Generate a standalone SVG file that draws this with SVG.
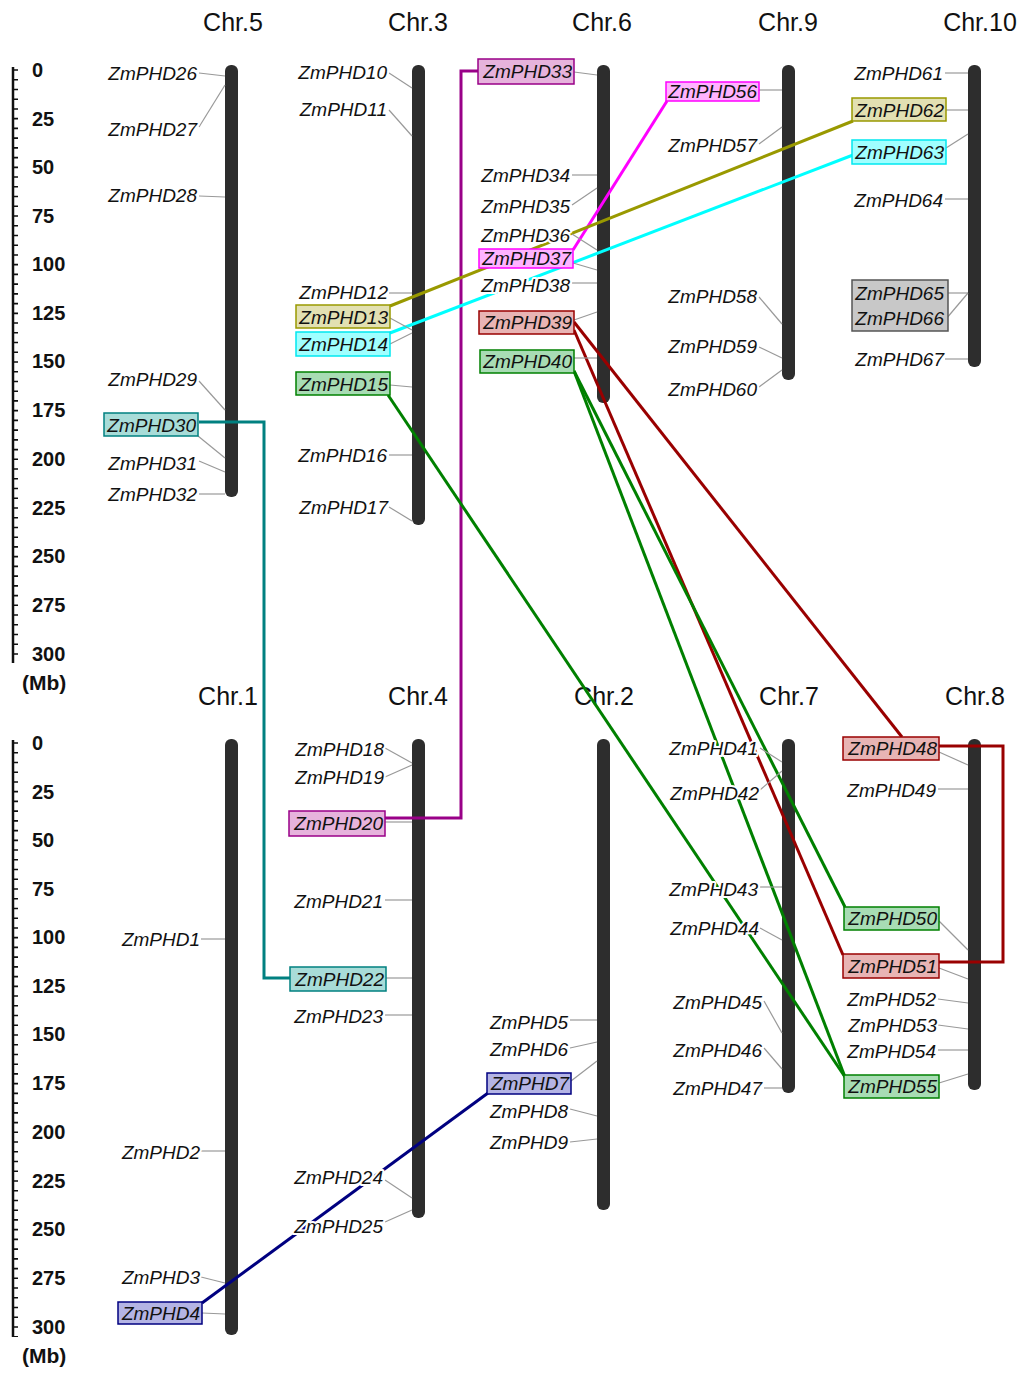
<svg xmlns="http://www.w3.org/2000/svg" width="1024" height="1377" viewBox="0 0 1024 1377">
<style>
.lab{font-family:"Liberation Sans",Arial,sans-serif;font-style:italic;font-size:19px;fill:#111;text-anchor:end;stroke:#fff;stroke-width:4px;paint-order:stroke;stroke-linejoin:round}
.bl{stroke:none}
.ttl{font-family:"Liberation Sans",Arial,sans-serif;font-size:25px;fill:#111;text-anchor:middle}
.num{font-family:"Liberation Sans",Arial,sans-serif;font-weight:bold;font-size:20px;fill:#111}
.mb{font-family:"Liberation Sans",Arial,sans-serif;font-weight:bold;font-size:21px;fill:#111}
.ld{stroke:#999;stroke-width:1.2;fill:none}
.chr{fill:#2d2d2d}
.cn{fill:none;stroke-width:3}
.pu{fill:#e6b3dc;stroke:#990088;stroke-width:1.5}
.mg{fill:#ffb3ff;stroke:#ff00ff;stroke-width:1.5}
.rd{fill:#e8b4b4;stroke:#990000;stroke-width:1.5}
.gr{fill:#a8dcb4;stroke:#008000;stroke-width:1.5}
.tl{fill:#a8dcd8;stroke:#008080;stroke-width:1.5}
.ol{fill:#e2e0b2;stroke:#999900;stroke-width:1.5}
.cy{fill:#a0ffff;stroke:#00e8f0;stroke-width:1.5}
.nv{fill:#b4b4e4;stroke:#000080;stroke-width:1.5}
.gy{fill:#c8c8c8;stroke:#555;stroke-width:1.5}
</style>
<rect width="1024" height="1377" fill="#fff"/>

<g id="ruler-top">
<line x1="13" y1="67" x2="13" y2="663" stroke="#111" stroke-width="2.5"/>
<line x1="15.5" y1="69.2" x2="15.5" y2="663" stroke="#111" stroke-width="5" stroke-dasharray="1.6 8.133"/>
<text class="num" x="32" y="77">0</text>
<text class="num" x="32" y="126">25</text>
<text class="num" x="32" y="174">50</text>
<text class="num" x="32" y="223">75</text>
<text class="num" x="32" y="271">100</text>
<text class="num" x="32" y="320">125</text>
<text class="num" x="32" y="368">150</text>
<text class="num" x="32" y="417">175</text>
<text class="num" x="32" y="466">200</text>
<text class="num" x="32" y="515">225</text>
<text class="num" x="32" y="563">250</text>
<text class="num" x="32" y="612">275</text>
<text class="num" x="32" y="661">300</text>
<text class="mb" x="22" y="690">(Mb)</text>
</g>
<g id="ruler-bottom">
<line x1="13" y1="740" x2="13" y2="1337" stroke="#111" stroke-width="2.5"/>
<line x1="15.5" y1="742.2" x2="15.5" y2="1337" stroke="#111" stroke-width="5" stroke-dasharray="1.6 8.133"/>
<text class="num" x="32" y="750">0</text>
<text class="num" x="32" y="799">25</text>
<text class="num" x="32" y="847">50</text>
<text class="num" x="32" y="896">75</text>
<text class="num" x="32" y="944">100</text>
<text class="num" x="32" y="993">125</text>
<text class="num" x="32" y="1041">150</text>
<text class="num" x="32" y="1090">175</text>
<text class="num" x="32" y="1139">200</text>
<text class="num" x="32" y="1188">225</text>
<text class="num" x="32" y="1236">250</text>
<text class="num" x="32" y="1285">275</text>
<text class="num" x="32" y="1334">300</text>
<text class="mb" x="22" y="1363">(Mb)</text>
</g>

<g id="chromosomes">
<g id="chr5"><text class="ttl" x="233" y="31">Chr.5</text><rect class="chr" x="225" y="65" width="13" height="432" rx="6"/></g>
<g id="chr3"><text class="ttl" x="418" y="31">Chr.3</text><rect class="chr" x="412" y="65" width="13" height="460" rx="6"/></g>
<g id="chr6"><text class="ttl" x="602" y="31">Chr.6</text><rect class="chr" x="597" y="65" width="13" height="338" rx="6"/></g>
<g id="chr9"><text class="ttl" x="788" y="31">Chr.9</text><rect class="chr" x="782" y="65" width="13" height="315" rx="6"/></g>
<g id="chr10"><text class="ttl" x="980" y="31">Chr.10</text><rect class="chr" x="968" y="65" width="13" height="302" rx="6"/></g>
<g id="chr1"><text class="ttl" x="228" y="705">Chr.1</text><rect class="chr" x="225" y="739" width="13" height="596" rx="6"/></g>
<g id="chr4"><text class="ttl" x="418" y="705">Chr.4</text><rect class="chr" x="412" y="739" width="13" height="479" rx="6"/></g>
<g id="chr2"><text class="ttl" x="604" y="705">Chr.2</text><rect class="chr" x="597" y="739" width="13" height="471" rx="6"/></g>
<g id="chr7"><text class="ttl" x="789" y="705">Chr.7</text><rect class="chr" x="782" y="739" width="13" height="354" rx="6"/></g>
<g id="chr8"><text class="ttl" x="975" y="705">Chr.8</text><rect class="chr" x="968" y="739" width="13" height="351" rx="6"/></g>
</g>

<g id="connectors">
<polyline class="cn" stroke="#008080" points="199,422 264,422 264,978 290,978"/>
<polyline class="cn" stroke="#990088" points="478,71 461,71 461,818 385,818"/>
<line class="cn" stroke="#ff00ff" x1="667" y1="101" x2="573" y2="250"/>
<line class="cn" stroke="#999900" x1="853" y1="121" x2="390" y2="306"/>
<line class="cn" stroke="#00ffff" x1="853" y1="155" x2="390" y2="333"/>
<line class="cn" stroke="#990000" x1="574" y1="322" x2="902" y2="737"/>
<line class="cn" stroke="#990000" x1="574" y1="330" x2="843" y2="955"/>
<polyline class="cn" stroke="#990000" points="939,746 1003,746 1003,962 939,962"/>
<line class="cn" stroke="#008000" x1="388" y1="395" x2="845" y2="1077"/>
<line class="cn" stroke="#008000" x1="574" y1="371" x2="845" y2="907"/>
<line class="cn" stroke="#008000" x1="574" y1="371" x2="845" y2="1077"/>
<line class="cn" stroke="#000080" x1="202" y1="1303" x2="488" y2="1093"/>
</g>

<g id="genes">
<g id="ZmPHD26"><line class="ld" x1="199" y1="73" x2="225" y2="76"/><text class="lab" x="197" y="80">ZmPHD26</text></g>
<g id="ZmPHD27"><line class="ld" x1="199" y1="127" x2="225" y2="85"/><text class="lab" x="197" y="136">ZmPHD27</text></g>
<g id="ZmPHD28"><line class="ld" x1="199" y1="196" x2="225" y2="197"/><text class="lab" x="197" y="202">ZmPHD28</text></g>
<g id="ZmPHD29"><line class="ld" x1="199" y1="381" x2="225" y2="410"/><text class="lab" x="197" y="386">ZmPHD29</text></g>
<g id="ZmPHD30"><line class="ld" x1="198" y1="436" x2="225" y2="458"/><rect class="tl" x="104" y="413" width="94" height="23"/><text class="lab bl" x="196" y="432">ZmPHD30</text></g>
<g id="ZmPHD31"><line class="ld" x1="199" y1="461" x2="225" y2="472"/><text class="lab" x="197" y="470">ZmPHD31</text></g>
<g id="ZmPHD32"><line class="ld" x1="199" y1="494" x2="225" y2="494"/><text class="lab" x="197" y="501">ZmPHD32</text></g>

<g id="ZmPHD10"><line class="ld" x1="389" y1="73" x2="412" y2="88"/><text class="lab" x="387" y="79">ZmPHD10</text></g>
<g id="ZmPHD11"><line class="ld" x1="389" y1="110" x2="412" y2="136"/><text class="lab" x="387" y="116">ZmPHD11</text></g>
<g id="ZmPHD12"><line class="ld" x1="389" y1="293" x2="412" y2="293"/><text class="lab" x="388" y="299">ZmPHD12</text></g>
<g id="ZmPHD13"><line class="ld" x1="390" y1="318" x2="412" y2="330"/><rect class="ol" x="296" y="305" width="94" height="23"/><text class="lab bl" x="388" y="324">ZmPHD13</text></g>
<g id="ZmPHD14"><line class="ld" x1="390" y1="344" x2="412" y2="333"/><rect class="cy" x="296" y="332" width="94" height="24"/><text class="lab bl" x="388" y="351">ZmPHD14</text></g>
<g id="ZmPHD15"><line class="ld" x1="390" y1="385" x2="412" y2="387"/><rect class="gr" x="296" y="372" width="94" height="23"/><text class="lab bl" x="388" y="391">ZmPHD15</text></g>
<g id="ZmPHD16"><line class="ld" x1="389" y1="455" x2="412" y2="455"/><text class="lab" x="387" y="462">ZmPHD16</text></g>
<g id="ZmPHD17"><line class="ld" x1="389" y1="507" x2="412" y2="521"/><text class="lab" x="388" y="514">ZmPHD17</text></g>

<g id="ZmPHD33"><line class="ld" x1="574" y1="72" x2="597" y2="75"/><rect class="pu" x="478" y="59" width="96" height="25"/><text class="lab bl" x="572" y="78">ZmPHD33</text></g>
<g id="ZmPHD34"><line class="ld" x1="572" y1="175" x2="597" y2="175"/><text class="lab" x="570" y="182">ZmPHD34</text></g>
<g id="ZmPHD35"><line class="ld" x1="572" y1="205" x2="597" y2="188"/><text class="lab" x="570" y="213">ZmPHD35</text></g>
<g id="ZmPHD36"><line class="ld" x1="572" y1="234" x2="597" y2="250"/><text class="lab" x="570" y="242">ZmPHD36</text></g>
<g id="ZmPHD37"><line class="ld" x1="573" y1="263" x2="597" y2="270"/><rect class="mg" x="479" y="249" width="94" height="19"/><text class="lab bl" x="571" y="265">ZmPHD37</text></g>
<g id="ZmPHD38"><line class="ld" x1="572" y1="283" x2="597" y2="283"/><text class="lab" x="570" y="292">ZmPHD38</text></g>
<g id="ZmPHD39"><line class="ld" x1="574" y1="320" x2="597" y2="312"/><rect class="rd" x="479" y="311" width="95" height="23"/><text class="lab bl" x="572" y="329">ZmPHD39</text></g>
<g id="ZmPHD40"><line class="ld" x1="574" y1="358" x2="597" y2="358"/><rect class="gr" x="480" y="350" width="94" height="23"/><text class="lab bl" x="572" y="368">ZmPHD40</text></g>

<g id="ZmPHD56"><line class="ld" x1="759" y1="90" x2="782" y2="90"/><rect class="mg" x="666" y="82" width="93" height="19"/><text class="lab bl" x="757" y="98">ZmPHD56</text></g>
<g id="ZmPHD57"><line class="ld" x1="759" y1="144" x2="782" y2="127"/><text class="lab" x="757" y="152">ZmPHD57</text></g>
<g id="ZmPHD58"><line class="ld" x1="759" y1="297" x2="782" y2="324"/><text class="lab" x="757" y="303">ZmPHD58</text></g>
<g id="ZmPHD59"><line class="ld" x1="759" y1="347" x2="782" y2="358"/><text class="lab" x="757" y="353">ZmPHD59</text></g>
<g id="ZmPHD60"><line class="ld" x1="759" y1="387" x2="782" y2="370"/><text class="lab" x="757" y="396">ZmPHD60</text></g>

<g id="ZmPHD61"><line class="ld" x1="945" y1="73" x2="968" y2="73"/><text class="lab" x="943" y="80">ZmPHD61</text></g>
<g id="ZmPHD62"><line class="ld" x1="946" y1="110" x2="968" y2="110"/><rect class="ol" x="852" y="98" width="94" height="23"/><text class="lab bl" x="944" y="117">ZmPHD62</text></g>
<g id="ZmPHD63"><line class="ld" x1="946" y1="148" x2="968" y2="134"/><rect class="cy" x="852" y="140" width="94" height="24"/><text class="lab bl" x="944" y="159">ZmPHD63</text></g>
<g id="ZmPHD64"><line class="ld" x1="945" y1="199" x2="968" y2="199"/><text class="lab" x="943" y="207">ZmPHD64</text></g>
<g id="ZmPHD65-66"><line class="ld" x1="946" y1="293" x2="968" y2="293"/><line class="ld" x1="946" y1="319" x2="968" y2="293"/><rect class="gy" x="852" y="280" width="96" height="51"/><text class="lab bl" x="944" y="300">ZmPHD65</text><text class="lab bl" x="944" y="325">ZmPHD66</text></g>
<g id="ZmPHD67"><line class="ld" x1="945" y1="359" x2="968" y2="359"/><text class="lab" x="944" y="366">ZmPHD67</text></g>

<g id="ZmPHD1"><line class="ld" x1="201" y1="939" x2="225" y2="939"/><text class="lab" x="200" y="946">ZmPHD1</text></g>
<g id="ZmPHD2"><line class="ld" x1="201" y1="1151" x2="225" y2="1151"/><text class="lab" x="200" y="1159">ZmPHD2</text></g>
<g id="ZmPHD3"><line class="ld" x1="201" y1="1277" x2="225" y2="1283"/><text class="lab" x="200" y="1284">ZmPHD3</text></g>
<g id="ZmPHD4"><line class="ld" x1="202" y1="1313" x2="225" y2="1314"/><rect class="nv" x="118" y="1302" width="84" height="22"/><text class="lab bl" x="200" y="1320">ZmPHD4</text></g>

<g id="ZmPHD18"><line class="ld" x1="385" y1="748" x2="412" y2="763"/><text class="lab" x="384" y="756">ZmPHD18</text></g>
<g id="ZmPHD19"><line class="ld" x1="385" y1="777" x2="412" y2="765"/><text class="lab" x="384" y="784">ZmPHD19</text></g>
<g id="ZmPHD20"><line class="ld" x1="385" y1="822" x2="412" y2="822"/><rect class="pu" x="289" y="811" width="96" height="25"/><text class="lab bl" x="383" y="830">ZmPHD20</text></g>
<g id="ZmPHD21"><line class="ld" x1="385" y1="900" x2="412" y2="900"/><text class="lab" x="383" y="908">ZmPHD21</text></g>
<g id="ZmPHD22"><line class="ld" x1="386" y1="978" x2="412" y2="978"/><rect class="tl" x="290" y="967" width="96" height="24"/><text class="lab bl" x="384" y="986">ZmPHD22</text></g>
<g id="ZmPHD23"><line class="ld" x1="385" y1="1015" x2="412" y2="1015"/><text class="lab" x="383" y="1023">ZmPHD23</text></g>
<g id="ZmPHD24"><line class="ld" x1="385" y1="1180" x2="412" y2="1198"/><text class="lab" x="383" y="1184">ZmPHD24</text></g>
<g id="ZmPHD25"><line class="ld" x1="385" y1="1222" x2="412" y2="1210"/><text class="lab" x="383" y="1233">ZmPHD25</text></g>

<g id="ZmPHD5"><line class="ld" x1="570" y1="1020" x2="597" y2="1020"/><text class="lab" x="568" y="1029">ZmPHD5</text></g>
<g id="ZmPHD6"><line class="ld" x1="570" y1="1048" x2="597" y2="1042"/><text class="lab" x="568" y="1056">ZmPHD6</text></g>
<g id="ZmPHD7"><line class="ld" x1="571" y1="1081" x2="597" y2="1061"/><rect class="nv" x="487" y="1073" width="84" height="21"/><text class="lab bl" x="569" y="1090">ZmPHD7</text></g>
<g id="ZmPHD8"><line class="ld" x1="570" y1="1109" x2="597" y2="1116"/><text class="lab" x="568" y="1118">ZmPHD8</text></g>
<g id="ZmPHD9"><line class="ld" x1="570" y1="1142" x2="597" y2="1139"/><text class="lab" x="568" y="1149">ZmPHD9</text></g>

<g id="ZmPHD41"><line class="ld" x1="760" y1="748" x2="782" y2="762"/><text class="lab" x="758" y="755">ZmPHD41</text></g>
<g id="ZmPHD42"><line class="ld" x1="760" y1="790" x2="782" y2="771"/><text class="lab" x="759" y="800">ZmPHD42</text></g>
<g id="ZmPHD43"><line class="ld" x1="760" y1="887" x2="782" y2="887"/><text class="lab" x="758" y="896">ZmPHD43</text></g>
<g id="ZmPHD44"><line class="ld" x1="760" y1="928" x2="782" y2="940"/><text class="lab" x="759" y="935">ZmPHD44</text></g>
<g id="ZmPHD45"><line class="ld" x1="764" y1="1001" x2="782" y2="1033"/><text class="lab" x="762" y="1009">ZmPHD45</text></g>
<g id="ZmPHD46"><line class="ld" x1="764" y1="1048" x2="782" y2="1069"/><text class="lab" x="762" y="1057">ZmPHD46</text></g>
<g id="ZmPHD47"><line class="ld" x1="764" y1="1088" x2="782" y2="1088"/><text class="lab" x="762" y="1095">ZmPHD47</text></g>

<g id="ZmPHD48"><line class="ld" x1="939" y1="752" x2="968" y2="765"/><rect class="rd" x="843" y="737" width="96" height="23"/><text class="lab bl" x="937" y="755">ZmPHD48</text></g>
<g id="ZmPHD49"><line class="ld" x1="938" y1="789" x2="968" y2="789"/><text class="lab" x="936" y="797">ZmPHD49</text></g>
<g id="ZmPHD50"><line class="ld" x1="939" y1="921" x2="968" y2="950"/><rect class="gr" x="844" y="907" width="95" height="23"/><text class="lab bl" x="937" y="925">ZmPHD50</text></g>
<g id="ZmPHD51"><line class="ld" x1="939" y1="968" x2="968" y2="979"/><rect class="rd" x="843" y="954" width="96" height="24"/><text class="lab bl" x="937" y="973">ZmPHD51</text></g>
<g id="ZmPHD52"><line class="ld" x1="938" y1="999" x2="968" y2="1003"/><text class="lab" x="936" y="1006">ZmPHD52</text></g>
<g id="ZmPHD53"><line class="ld" x1="938" y1="1025" x2="968" y2="1029"/><text class="lab" x="937" y="1032">ZmPHD53</text></g>
<g id="ZmPHD54"><line class="ld" x1="938" y1="1050" x2="968" y2="1050"/><text class="lab" x="936" y="1058">ZmPHD54</text></g>
<g id="ZmPHD55"><line class="ld" x1="939" y1="1083" x2="968" y2="1074"/><rect class="gr" x="844" y="1075" width="95" height="23"/><text class="lab bl" x="937" y="1093">ZmPHD55</text></g>
</g>
</svg>
